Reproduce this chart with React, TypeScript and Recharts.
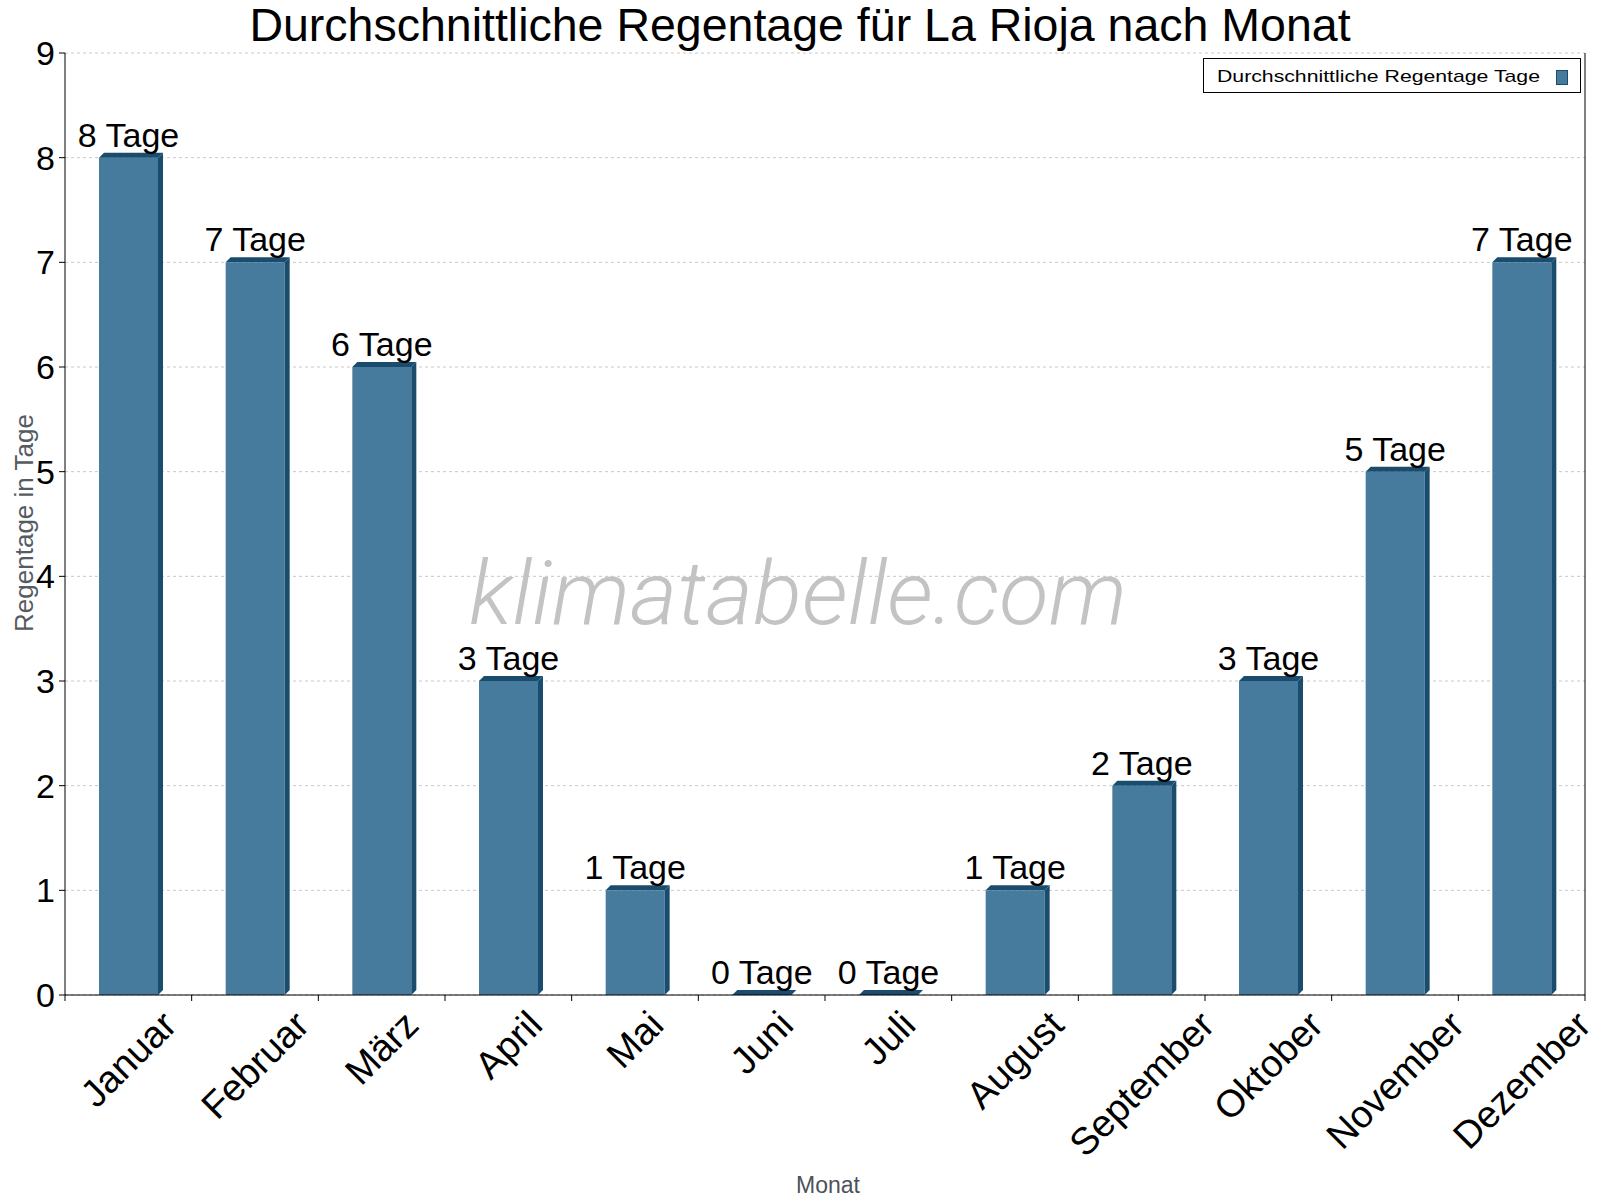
import React from 'react';
import { BarChart, Bar, XAxis, YAxis, CartesianGrid, LabelList, Customized } from 'recharts';

const months = ['Januar', 'Februar', 'März', 'April', 'Mai', 'Juni', 'Juli', 'August', 'September', 'Oktober', 'November', 'Dezember'];
const rainDays = [8, 7, 6, 3, 1, 0, 0, 1, 2, 3, 5, 7];
const yTicks = [0, 1, 2, 3, 4, 5, 6, 7, 8, 9];

const W = 1600;
const H = 1200;
const LEFT_AXIS_W = 65;
const RIGHT_AXIS_W = 15;
const X_AXIS_H = 205;
const TOP = 53;
const BAND = (W - LEFT_AXIS_W - RIGHT_AXIS_W) / months.length;

const FRONT = '#467b9d';
const DARK = '#1a4c6d';
const DEPTH = 5;
const FONT = '"Liberation Sans", Arial, sans-serif';

const data = months.map((m, i) => ({ month: m, days: rainDays[i] }));

// front face + dark top and side faces
const Bar3D = (props: any) => {
    const { x, y, width, height } = props;
    const d = DEPTH;
    return (
        <g>
            <rect x={x} y={y} width={width} height={height} fill={FRONT} />
            <polygon points={`${x},${y} ${x + d},${y - d} ${x + width + d},${y - d} ${x + width},${y}`} fill={DARK} />
            <polygon points={`${x + width},${y} ${x + width + d},${y - d} ${x + width + d},${y + height - d} ${x + width},${y + height}`} fill={DARK} />
        </g>
    );
};

const ValueLabel = (props: any) => {
    const { x, y, width, value } = props;
    return (
        <text x={x + width / 2} y={y - 11} textAnchor="middle" fontSize={34} fill="#000" fontFamily={FONT}>
            {`${value} Tage`}
        </text>
    );
};

let measureCtx: CanvasRenderingContext2D | null = null;
const textWidth = (s: string, size: number) => {
    if (!measureCtx) measureCtx = document.createElement('canvas').getContext('2d');
    if (!measureCtx) return s.length * size * 0.55;
    measureCtx.font = `${size}px "Liberation Sans", Arial, sans-serif`;
    return measureCtx.measureText(s).width;
};

// rotated month names, centred under each band, with tick marks on the band edges
const MonthTick = (props: any) => {
    const { x, y, payload, index } = props;
    const size = 38;
    const w = textWidth(payload.value, size);
    const side = (w + size * 0.75) / Math.SQRT2;
    const cy = y + 13 + side / 2;
    return (
        <g>
            <line x1={x - BAND / 2} y1={y} x2={x - BAND / 2} y2={y + 6} stroke="#000" />
            {index === months.length - 1 && <line x1={x + BAND / 2} y1={y} x2={x + BAND / 2} y2={y + 6} stroke="#000" />}
            <text x={x} y={cy} textAnchor="middle" dominantBaseline="central" fontSize={size} fill="#000" fontFamily={FONT} transform={`rotate(-45, ${x}, ${cy})`}>
                {payload.value}
            </text>
        </g>
    );
};

const Overlay = () => (
    <g fontFamily={FONT}>
        <text x={W / 2} y={41} textAnchor="middle" fontSize={46.5} fill="#000">
            Durchschnittliche Regentage für La Rioja nach Monat
        </text>
        <text x={798} y={624} textAnchor="middle" fontSize={88} fontStyle="italic" fontWeight={300} fontFamily="Roboto, sans-serif" fill="#c3c3c3" textLength={658} lengthAdjust="spacingAndGlyphs">
            klimatabelle.com
        </text>
        <text x={33} y={523} textAnchor="middle" fontSize={26} fill="#555b63" transform="rotate(-90, 33, 523)">
            Regentage in Tage
        </text>
        <text x={828} y={1193} textAnchor="middle" fontSize={23} fill="#4d525a">
            Monat
        </text>
        <rect x={1203.5} y={58.5} width={377} height={34} fill="#fff" stroke="#000" />
        <text x={1217} y={82} fontSize={17} fill="#000" textLength={323} lengthAdjust="spacingAndGlyphs">
            Durchschnittliche Regentage Tage
        </text>
        <rect x={1556.5} y={70.5} width={11} height={14} fill={FRONT} stroke={DARK} />
    </g>
);

export default function App() {
    return (
        <div style={{ position: 'absolute', left: 0, top: 0, width: W, height: H, background: '#fff', fontFamily: FONT }}>
            <BarChart width={W} height={H} data={data} margin={{ top: TOP, right: 0, left: 0, bottom: 0 }}>
                <CartesianGrid vertical={false} stroke="#c8c8c8" strokeDasharray="3 3" />
                <XAxis
                    dataKey="month"
                    height={X_AXIS_H}
                    interval={0}
                    tickLine={false}
                    tickSize={0}
                    tickMargin={0}
                    axisLine={{ stroke: '#000' }}
                    tick={<MonthTick />}
                />
                <YAxis
                    width={LEFT_AXIS_W}
                    domain={[0, 9]}
                    ticks={yTicks}
                    interval={0}
                    tickSize={6}
                    tickMargin={4}
                    axisLine={{ stroke: '#000' }}
                    tickLine={{ stroke: '#000' }}
                    tick={{ fill: '#000', fontSize: 34 }}
                />
                <YAxis yAxisId="right" orientation="right" width={RIGHT_AXIS_W} domain={[0, 9]} tick={false} tickLine={false} axisLine={{ stroke: '#000' }} />
                <Bar dataKey="days" barSize={59} shape={<Bar3D />} isAnimationActive={false}>
                    <LabelList dataKey="days" content={<ValueLabel />} />
                </Bar>
                <Customized component={Overlay} />
            </BarChart>
        </div>
    );
}
